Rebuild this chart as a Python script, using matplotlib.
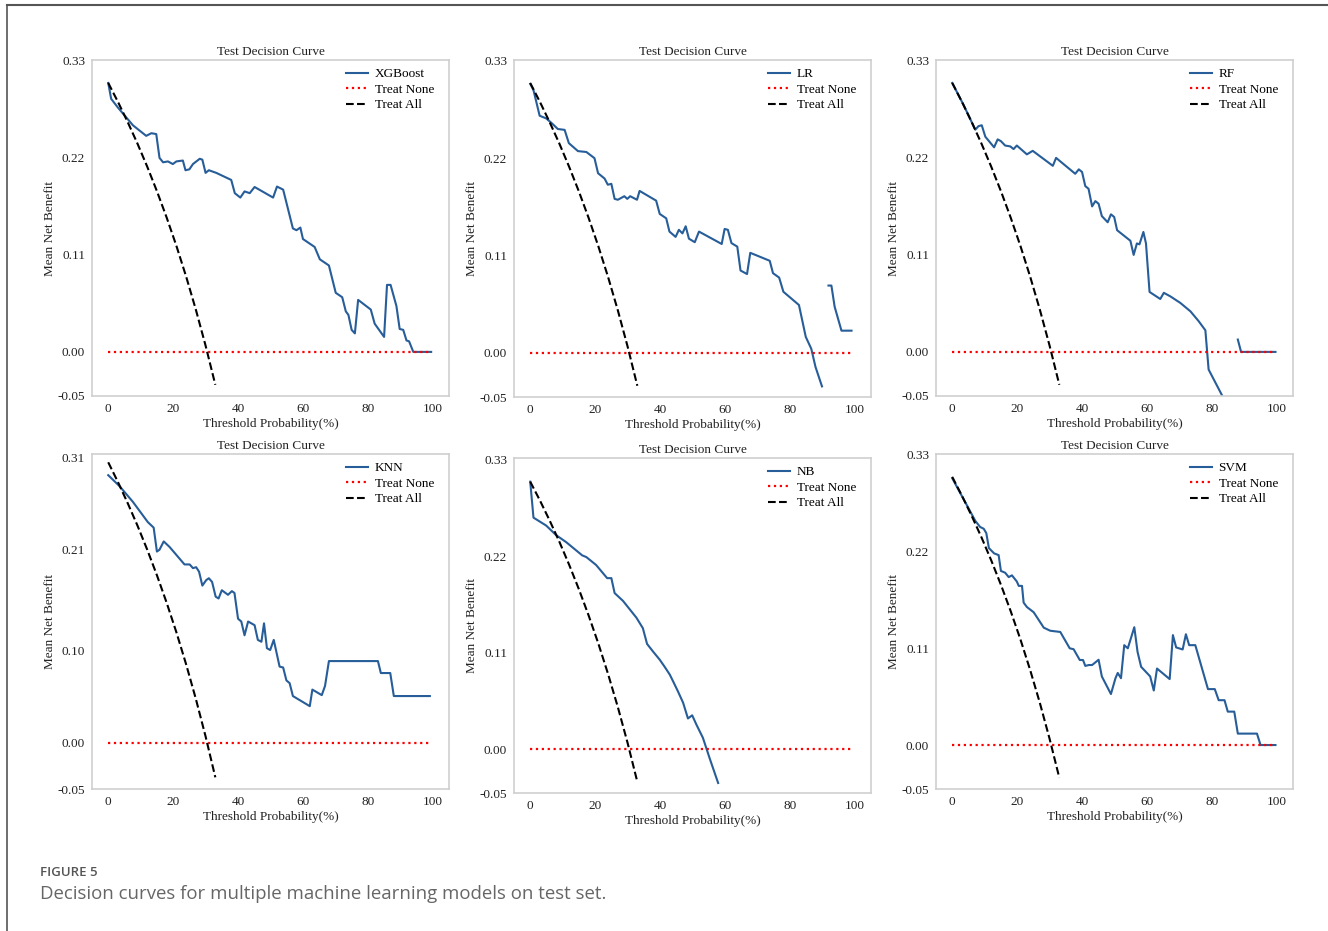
import matplotlib
matplotlib.use("Agg")
import matplotlib.pyplot as plt
from matplotlib.lines import Line2D

nan = float("nan")

# ---- data (threshold %, mean net benefit) ----
treat_all_x = [0, 3, 6, 9, 12, 15, 18, 21, 24, 27, 30, 33]
treat_all_y = [0.305, 0.2835, 0.2606, 0.2363, 0.2102, 0.1823, 0.1524, 0.1203, 0.0855, 0.0479, 0.0071, -0.0373]
treat_none_x = [0, 99.5]
treat_none_y = [0.0, 0.0]

xgb_x = [0, 0.9, 3, 7.6, 11.7, 13.3, 14.8, 15.8, 16.9, 18.4, 19.9, 21, 23, 23.8, 25, 26.1, 28.2, 29, 30, 31,
         33.3, 37.9, 39, 40.7, 42, 43.6, 45.1, 50.8, 52, 53.9, 56.9, 58, 59.2, 60, 63.6, 65.2, 68, 70.1, 72.1, 73.2,
         74, 75, 76, 77, 80.9, 82.1, 85, 85.9, 87, 88.8, 89.8, 90.9, 91.9, 92.7, 94, 99.5]
xgb_y = [0.305, 0.287, 0.277, 0.257, 0.245, 0.248, 0.247, 0.220, 0.215, 0.216, 0.213, 0.216, 0.217, 0.206, 0.207,
         0.213, 0.219, 0.218, 0.203, 0.206, 0.203, 0.195, 0.180, 0.175, 0.182, 0.180, 0.187, 0.175, 0.1875, 0.184,
         0.140, 0.138, 0.141, 0.128, 0.119, 0.105, 0.098, 0.067, 0.062, 0.046, 0.042, 0.025, 0.021, 0.059, 0.048,
         0.032, 0.017, 0.076, 0.076, 0.052, 0.026, 0.025, 0.013, 0.012, 0.0, 0.0]

lr_x = [0, 1, 2.9, 4.9, 6.5, 8.5, 10.6, 11.9, 14.7, 17.3, 19.8, 20.9, 22.9, 23.9, 25, 26, 27, 29, 29.9, 30.8,
        32.9, 33.7, 38.8, 39.9, 41.9, 42.9, 44.8, 45.8, 46.9, 47.9, 48.9, 50.7, 52, 59, 59.9, 60.9, 62, 63.8, 64.8,
        66.8, 67.8, 73.8, 74.8, 76.7, 78, 82.8, 84.9, 86.6, 87.9, 89.9, 91, 91.9, 92.8, 93.8, 95.9, 99]
lr_y = [0.304, 0.297, 0.268, 0.265, 0.260, 0.253, 0.252, 0.237, 0.228, 0.227, 0.220, 0.203, 0.197, 0.190, 0.191,
        0.174, 0.173, 0.177, 0.174, 0.177, 0.173, 0.183, 0.172, 0.157, 0.152, 0.137, 0.131, 0.139, 0.135, 0.143,
        0.129, 0.125, 0.137, 0.123, 0.140, 0.139, 0.124, 0.120, 0.093, 0.089, 0.113, 0.104, 0.090, 0.085, 0.069,
        0.054, 0.018, 0.0045, -0.016, -0.038, nan, 0.076, 0.076, 0.052, 0.025, 0.025]

rf_x = [0, 3.5, 7.1, 8.1, 9.1, 10.2, 12.9, 14, 15, 16.3, 17.9, 18.9, 19.9, 23, 24.8, 31, 32, 37.9, 39, 40,
        41, 42, 43.1, 44.1, 45.1, 46.1, 47.9, 48.9, 49.9, 50.8, 54.9, 55.9, 56.9, 57.7, 58.9, 59.7, 60.8, 64.1,
        65.2, 67.2, 70.3, 73.4, 75.9, 78, 79, 83.1, 85, 88, 89, 99.6]
rf_y = [0.305, 0.280, 0.252, 0.256, 0.257, 0.244, 0.232, 0.241, 0.239, 0.234, 0.233, 0.230, 0.234, 0.224, 0.228,
        0.211, 0.220, 0.202, 0.207, 0.204, 0.188, 0.185, 0.165, 0.171, 0.168, 0.154, 0.147, 0.156, 0.153, 0.138,
        0.126, 0.110, 0.123, 0.122, 0.136, 0.123, 0.068, 0.060, 0.067, 0.063, 0.0555, 0.046, 0.035, 0.0245, -0.020,
        -0.049, nan, 0.014, 0.0, 0.0]

knn_x = [0, 3.5, 7.6, 12.2, 14, 15, 15.8, 17.1, 18.9, 23.5, 25.1, 26.1, 27.1, 28, 29, 30.2, 31, 32, 33.1, 34,
         35, 36.9, 38.1, 38.9, 40, 41, 42, 43.1, 45.1, 46.1, 47.2, 48, 48.9, 49.9, 51, 52.8, 53.9, 54.9, 55.9, 56.9,
         62.1, 62.9, 65.8, 66.8, 68, 83.1, 84, 86.9, 88, 99.1]
knn_y = [0.291, 0.279, 0.262, 0.240, 0.234, 0.208, 0.210, 0.219, 0.213, 0.194, 0.194, 0.190, 0.191, 0.186, 0.171,
         0.177, 0.179, 0.175, 0.159, 0.157, 0.166, 0.161, 0.165, 0.163, 0.135, 0.132, 0.117, 0.132, 0.128, 0.112,
         0.110, 0.130, 0.103, 0.101, 0.112, 0.083, 0.082, 0.068, 0.065, 0.051, 0.040, 0.058, 0.052, 0.062, 0.089,
         0.089, 0.076, 0.076, 0.051, 0.051]

nb_x = [0, 1, 4.9, 8, 11.1, 16, 17.3, 20.3, 23.7, 25, 26, 28.6, 32.7, 34.7, 36, 37.8, 39.9, 41.4, 43, 44,
        45.5, 47.1, 48.6, 49.9, 51.2, 53.2, 55.3, 57.9]
nb_y = [0.305, 0.264, 0.255, 0.244, 0.236, 0.221, 0.219, 0.210, 0.195, 0.195, 0.178, 0.169, 0.150, 0.138, 0.120,
        0.1115, 0.102, 0.094, 0.085, 0.0775, 0.066, 0.053, 0.035, 0.0386, 0.028, 0.013, -0.0106, -0.0386]

svm_x = [0, 3, 5.5, 7.1, 8.6, 9.7, 10.5, 11.3, 12.9, 14.3, 15, 16.3, 17.4, 18.4, 19.9, 20.5, 21.5, 22, 23, 25.1,
         28.2, 30.2, 33.3, 36.2, 37.4, 39.3, 40.3, 41, 42.1, 43.1, 45.1, 46.1, 48.9, 50.3, 51, 52, 53, 54.1, 56.1,
         57.1, 58.2, 61, 62.1, 63.1, 67, 68, 69, 71, 72, 73, 74.9, 78.8, 80.9, 82.1, 83.9, 84.9, 86.9, 88, 93.9,
         95, 99.6]
svm_y = [0.3035, 0.283, 0.266, 0.255, 0.248, 0.246, 0.241, 0.224, 0.218, 0.216, 0.198, 0.196, 0.191, 0.193, 0.186,
         0.181, 0.181, 0.162, 0.157, 0.151, 0.1335, 0.130, 0.1286, 0.110, 0.109, 0.0967, 0.0967, 0.090, 0.091, 0.091,
         0.097, 0.078, 0.058, 0.076, 0.082, 0.076, 0.1136, 0.110, 0.134, 0.106, 0.089, 0.078, 0.062, 0.087, 0.075,
         0.125, 0.111, 0.1087, 0.126, 0.1136, 0.1136, 0.0636, 0.0636, 0.051, 0.051, 0.038, 0.038, 0.013, 0.013,
         0.0, 0.0]

yticks_a = [-0.05, 0.00, 0.11, 0.22, 0.33]
yticks_b = [-0.05, 0.00, 0.10, 0.21, 0.31]
xticks = [0, 20, 40, 60, 80, 100]

models = ["XGBoost", "LR", "RF", "KNN", "NB", "SVM"]
curves_x = [xgb_x, lr_x, rf_x, knn_x, nb_x, svm_x]
curves_y = [xgb_y, lr_y, rf_y, knn_y, nb_y, svm_y]
yticks_all = [yticks_a, yticks_a, yticks_a, yticks_b, yticks_a, yticks_a]
ytops = [0.331, 0.331, 0.331, 0.314, 0.332, 0.331]

# panel boxes in pixels: left, top, right, bottom
boxes = [(92, 60, 449, 396), (514, 60, 871, 397), (936, 60, 1293, 396),
         (92, 454, 449, 789), (514, 458, 871, 793), (936, 454, 1293, 789)]

W, H = 1328, 931
plt.rcParams['font.family'] = ['Liberation Serif', 'DejaVu Serif']
fig = plt.figure(figsize=(W / 100, H / 100), dpi=100)

for i, name in enumerate(models):
    l, t, r, b = boxes[i]
    ax = fig.add_axes([l / W, 1 - b / H, (r - l) / W, (b - t) / H])
    ax.plot(curves_x[i], curves_y[i], color="#275d98", lw=1.5, label=name)
    ax.plot(treat_none_x, treat_none_y, color="red", ls=":", lw=1.6, label="Treat None")
    ax.plot(treat_all_x, treat_all_y, color="black", ls="--", lw=1.5, label="Treat All")
    ax.set_xlim(-5, 105)
    ax.set_ylim(-0.05, ytops[i])
    ax.set_xticks(xticks)
    ax.set_yticks(yticks_all[i])
    ax.set_yticklabels([f"{v:.2f}" for v in yticks_all[i]])
    ax.tick_params(length=0, pad=5, labelsize=9.5, colors="#222222")
    for s in ax.spines.values():
        s.set_color("#cfcfcf"); s.set_linewidth(1.2)
    ax.set_title("Test Decision Curve", fontsize=9.5, pad=3.5, color="#222222")
    ax.set_xlabel("Threshold Probability(%)", fontsize=9.5, labelpad=2, color="#222222")
    ax.set_ylabel("Mean Net Benefit", fontsize=9.5, labelpad=1, color="#222222")
    ax.legend(loc="upper right", bbox_to_anchor=(0.98, 1.0), frameon=False, fontsize=9.5,
              handlelength=1.7, handletextpad=0.5, borderaxespad=0.2, labelspacing=0.25)

# page frame and caption
fig.add_artist(Line2D([7 / W, 1], [1 - 5 / H, 1 - 5 / H], transform=fig.transFigure, color="#555555", lw=1.5))
fig.add_artist(Line2D([7 / W, 7 / W], [0, 1 - 5 / H], transform=fig.transFigure, color="#555555", lw=1.2))
fig.text(40 / W, 1 - 872 / H, "FIGURE 5", fontfamily="Open Sans", fontweight="semibold",
         fontsize=9.5, color="#555555", va="center")
fig.text(40 / W, 1 - 894 / H, "Decision curves for multiple machine learning models on test set.",
         fontfamily="Open Sans", fontsize=13.4, color="#666666", va="center")

fig.savefig("out.png", dpi=100)
